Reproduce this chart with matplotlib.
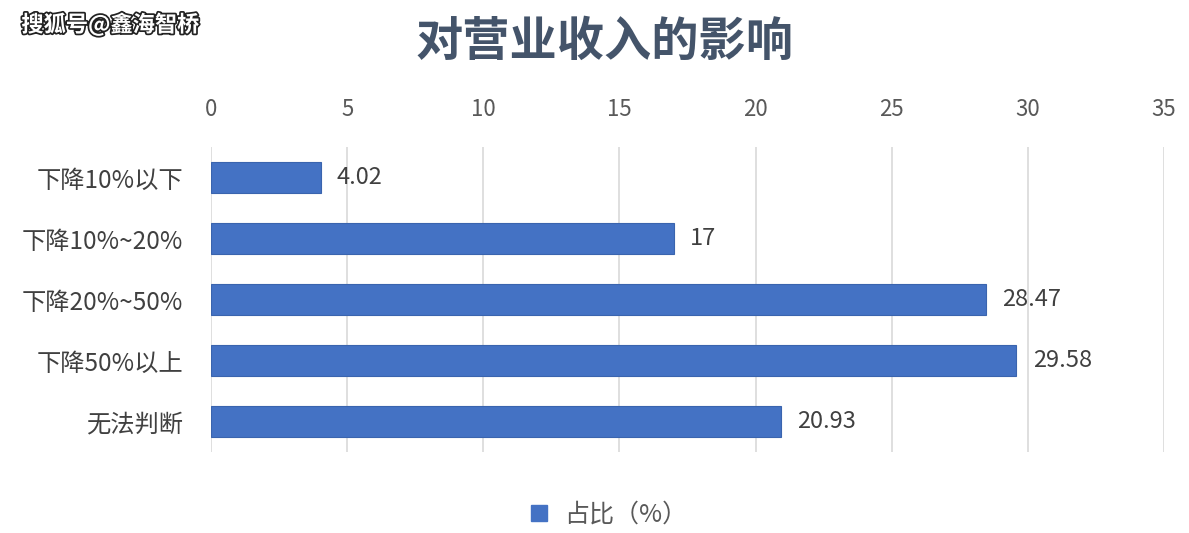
import matplotlib.pyplot as plt
import matplotlib.patheffects as pe
from matplotlib.lines import Line2D

plt.rcParams['font.family'] = ['Noto Sans CJK SC', 'DejaVu Sans']

# data
categories = ['下降10%以下', '下降10%~20%', '下降20%~50%', '下降50%以上', '无法判断']
values = [4.02, 17, 28.47, 29.58, 20.93]
xticks = [0, 5, 10, 15, 20, 25, 30, 35]
series_name = '占比（%）'

bar_color = '#4472C4'
text_gray = '#595959'

fig = plt.figure(figsize=(11.89, 5.33), dpi=100)
ax = fig.add_axes([0.1775, 0.152, 0.8015, 0.572])

ypos = list(range(len(categories)))
ax.barh(ypos, values, height=0.5, color=bar_color, edgecolor='#3A64AE', linewidth=0.8, zorder=3)
for y, v in zip(ypos, values):
    ax.text(v + 0.6, y, f'{v:g}', va='center', ha='left', fontsize=17, color='#404040')

ax.set_xlim(0, 35)
ax.set_ylim(4.5, -0.5)
ax.set_xticks(xticks)
ax.set_yticks(ypos)
ax.set_yticklabels(categories, fontsize=17.5, color='#404040')
ax.xaxis.tick_top()
ax.tick_params(axis='x', length=0, pad=19, labelsize=16, labelcolor=text_gray)
ax.tick_params(axis='y', length=0, pad=20)
ax.grid(axis='x', color='#D9D9D9', linewidth=1.2, zorder=0)
for s in ax.spines.values():
    s.set_visible(False)

fig.text(0.508, 0.922, '对营业收入的影响', ha='center', va='center',
         fontsize=34, fontweight='bold', color='#44546A')

# watermark
fig.text(0.018, 0.953, '搜狐号@鑫海智桥', ha='left', va='center', fontsize=16,
         fontweight='bold', color='white',
         path_effects=[pe.withStroke(linewidth=2.5, foreground='#222222')])

handle = Line2D([], [], marker='s', linestyle='none', markersize=11,
                markerfacecolor=bar_color, markeredgecolor=bar_color)
fig.legend([handle], [series_name], loc='center', bbox_to_anchor=(0.505, 0.035),
           frameon=False, fontsize=18, labelcolor=text_gray, handletextpad=0.0)

fig.savefig('out.png', dpi=100, facecolor='white')
